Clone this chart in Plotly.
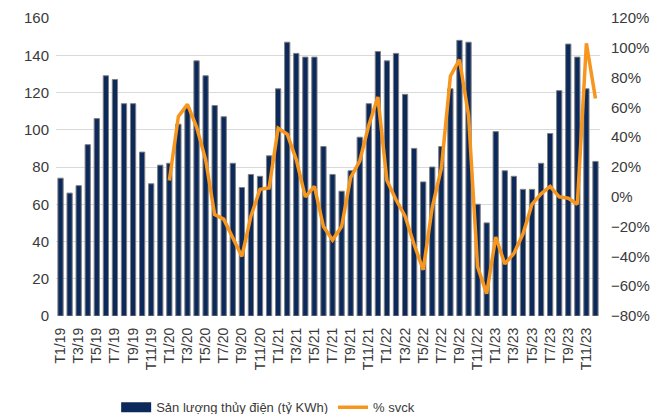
import plotly.graph_objects as go

# months T1/19 .. T12/23
months = [f"T{m}/{y}" for y in range(19, 24) for m in range(1, 13)]

hydro_output = [
    74, 66, 70, 92, 106, 129, 127, 114, 114, 88, 71, 81,
    82, 103, 112, 137, 129, 113, 107, 82, 69, 76, 75, 86,
    122, 147, 141, 139, 139, 91, 76, 67, 78, 96, 114, 142,
    137, 141, 119, 90, 72, 80, 91, 122, 148, 147, 60, 50,
    99, 78, 75, 68, 68, 82, 98, 121, 146, 139, 122, 83,
]

# % svck, starts at T1/20
yoy = [None] * 12 + [
    0.11, 0.54, 0.62, 0.47, 0.25, -0.12, -0.15, -0.28, -0.40, -0.13, 0.05, 0.06,
    0.46, 0.42, 0.25, 0.00, 0.07, -0.20, -0.29, -0.20, 0.13, 0.24, 0.48, 0.67,
    0.11, -0.02, -0.13, -0.32, -0.49, -0.07, 0.19, 0.81, 0.92, 0.55, -0.47, -0.65,
    -0.27, -0.45, -0.38, -0.25, -0.05, 0.02, 0.07, 0.00, -0.01, -0.05, 1.03, 0.66,
]

tick_labels = months[::2]

navy = "#0b2a5b"
orange = "#f7961e"

fig = go.Figure()
fig.add_trace(go.Bar(
    x=months, y=hydro_output, name="Sản lượng thủy điện (tỷ KWh)", showlegend=False,
    marker=dict(color=navy, line=dict(color="#808080", width=1)),
))
# legend entry drawn as a wide block, like the original
fig.add_trace(go.Scatter(
    x=[None], y=[None], mode="lines", name="Sản lượng thủy điện (tỷ KWh)",
    line=dict(color=navy, width=10),
))
fig.add_trace(go.Scatter(
    x=months, y=yoy, name="% svck", yaxis="y2", mode="lines",
    line=dict(color=orange, width=3.5),
))

# page body has an 8px margin, so the figure is 8px smaller than the window
fig.update_layout(
    width=656, height=406,
    margin=dict(l=48, r=64, t=10, b=98, autoexpand=False),
    paper_bgcolor="white", plot_bgcolor="white",
    font=dict(family="Liberation Sans, Arial", size=15, color="#3a3a3a"),
    bargap=0.42,
    showlegend=True,
    legend=dict(orientation="h", x=0.39, xanchor="center", y=-0.306, yanchor="middle",
                font=dict(size=13), itemwidth=30, tracegroupgap=0),
    xaxis=dict(type="category", tickmode="array", tickvals=tick_labels, ticktext=tick_labels,
               tickangle=-90, tickfont=dict(size=14), showgrid=False, ticks="",
               ticklabelstandoff=8, automargin=False),
    yaxis=dict(range=[0, 160], dtick=20, showgrid=True, gridcolor="#d9d9d9",
               zeroline=False, ticks="", ticklabelstandoff=6, automargin=False),
    yaxis2=dict(overlaying="y", side="right", range=[-0.8, 1.2], dtick=0.2,
                tickformat=".0%", showgrid=False, zeroline=False, ticks="",
                ticklabelstandoff=10, automargin=False),
)

fig.write_html("out.html")
